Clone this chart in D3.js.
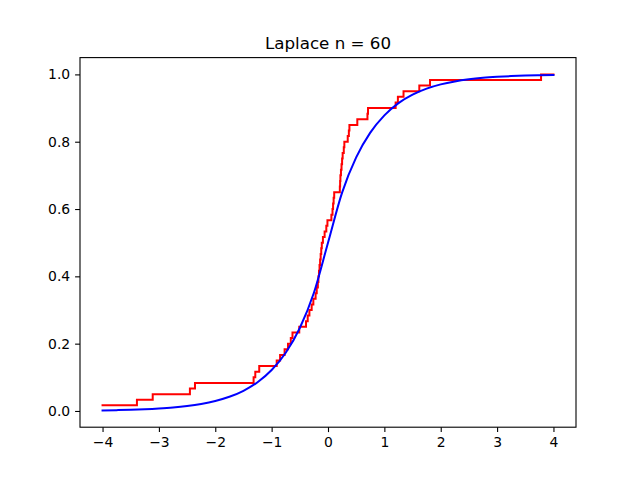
<!DOCTYPE html>
<html>
<head>
<meta charset="utf-8">
<script src="https://cdn.jsdelivr.net/npm/d3@7"></script>
<style>
  body { margin: 0; background: #fff; }
  svg { display: block; font-family: "DejaVu Sans", sans-serif; }
</style>
</head>
<body>
<svg id="chart" width="640" height="480"></svg>
<script>
// sorted sample values (one lies left of -4)
var samples = [-4.3, -3.39, -3.11, -2.45, -2.36, -1.32, -1.29, -1.22, -0.91, -0.85,
  -0.77, -0.71, -0.66, -0.63, -0.51, -0.39, -0.36, -0.33, -0.29, -0.26,
  -0.22, -0.2, -0.18, -0.17, -0.16, -0.15, -0.14, -0.13, -0.12, -0.11,
  -0.09, -0.06, -0.03, -0.01, 0.06, 0.08, 0.09, 0.1, 0.11, 0.21,
  0.215, 0.22, 0.23, 0.24, 0.25, 0.26, 0.28, 0.29, 0.35, 0.37,
  0.38, 0.52, 0.7, 0.71, 1.2, 1.24, 1.34, 1.62, 1.81, 3.78];

// blue curve, read every 0.25 from -4 to 4
var cdfX = d3.range(-4, 4.0001, 0.25);
var cdfY = [0.0017, 0.0025, 0.0035, 0.0050, 0.0072, 0.0102, 0.0146, 0.0208,
  0.0296, 0.0421, 0.0600, 0.0854, 0.1216, 0.1731, 0.2466, 0.3511,
  0.5,
  0.6489, 0.7534, 0.8269, 0.8784, 0.9146, 0.9400, 0.9579, 0.9704,
  0.9792, 0.9854, 0.9898, 0.9928, 0.9950, 0.9965, 0.9975, 0.9983];

var xTicks = [-4, -3, -2, -1, 0, 1, 2, 3, 4];
var yTicks = [0, 0.2, 0.4, 0.6, 0.8, 1.0];

var W = 640, H = 480;
var m = {left: 80, right: 64, top: 57.6, bottom: 52.8};
var svg = d3.select('#chart');

var n = samples.length;
var xMin = -4, xMax = 4;

// ecdf drawn from -4 to 4
var ecdf = [[xMin, samples.filter(s => s <= xMin).length / n]];
samples.forEach(function(s, i) {
  if (s > xMin && s <= xMax) ecdf.push([s, (i + 1) / n]);
});
ecdf.push([xMax, samples.filter(s => s <= xMax).length / n]);

var curve = cdfX.map((x, i) => [x, cdfY[i]]);

// matplotlib style 5% margins
var xPad = (xMax - xMin) * 0.05;
var yLo = d3.min([d3.min(ecdf, d => d[1]), d3.min(cdfY)]);
var yHi = d3.max([d3.max(ecdf, d => d[1]), d3.max(cdfY)]);
var yPad = (yHi - yLo) * 0.05;

var x = d3.scaleLinear().domain([xMin - xPad, xMax + xPad]).range([m.left, W - m.right]);
var y = d3.scaleLinear().domain([yLo - yPad, yHi + yPad]).range([H - m.bottom, m.top]);

var line = d3.line().x(d => x(d[0])).y(d => y(d[1]));

svg.append('path')
    .datum(ecdf)
    .attr('d', line.curve(d3.curveStepAfter))
    .attr('fill', 'none')
    .attr('stroke', '#ff0000')
    .attr('stroke-width', 2)
    .attr('stroke-linecap', 'square');

svg.append('path')
    .datum(curve)
    .attr('d', d3.line().x(d => x(d[0])).y(d => y(d[1])).curve(d3.curveMonotoneX))
    .attr('fill', 'none')
    .attr('stroke', '#0000ff')
    .attr('stroke-width', 2)
    .attr('stroke-linecap', 'square');

var fmtX = d => d < 0 ? '\u2212' + Math.abs(d) : String(d);

var xAxis = svg.append('g')
    .attr('transform', 'translate(0,' + (H - m.bottom) + ')')
    .call(d3.axisBottom(x).tickValues(xTicks).tickFormat(fmtX).tickSize(4.9).tickPadding(4.9));
var yAxis = svg.append('g')
    .attr('transform', 'translate(' + m.left + ',0)')
    .call(d3.axisLeft(y).tickValues(yTicks).tickFormat(d3.format('.1f')).tickSize(4.9).tickPadding(4.9));

[xAxis, yAxis].forEach(function(g) {
  g.select('.domain').remove();
  g.selectAll('line').attr('stroke', '#000').attr('stroke-width', 1.1);
  g.selectAll('text').attr('fill', '#000').style('font-size', '13.9px').style('font-family', '"DejaVu Sans", sans-serif');
});

// frame
svg.append('rect')
    .attr('x', m.left)
    .attr('y', m.top)
    .attr('width', W - m.left - m.right)
    .attr('height', H - m.top - m.bottom)
    .attr('fill', 'none')
    .attr('stroke', '#000')
    .attr('stroke-width', 1.1);

svg.append('text')
    .attr('x', (m.left + W - m.right) / 2)
    .attr('y', m.top - 8.3)
    .attr('text-anchor', 'middle')
    .style('font-size', '16.7px')
    .text('Laplace n = ' + n);
</script>
</body>
</html>
